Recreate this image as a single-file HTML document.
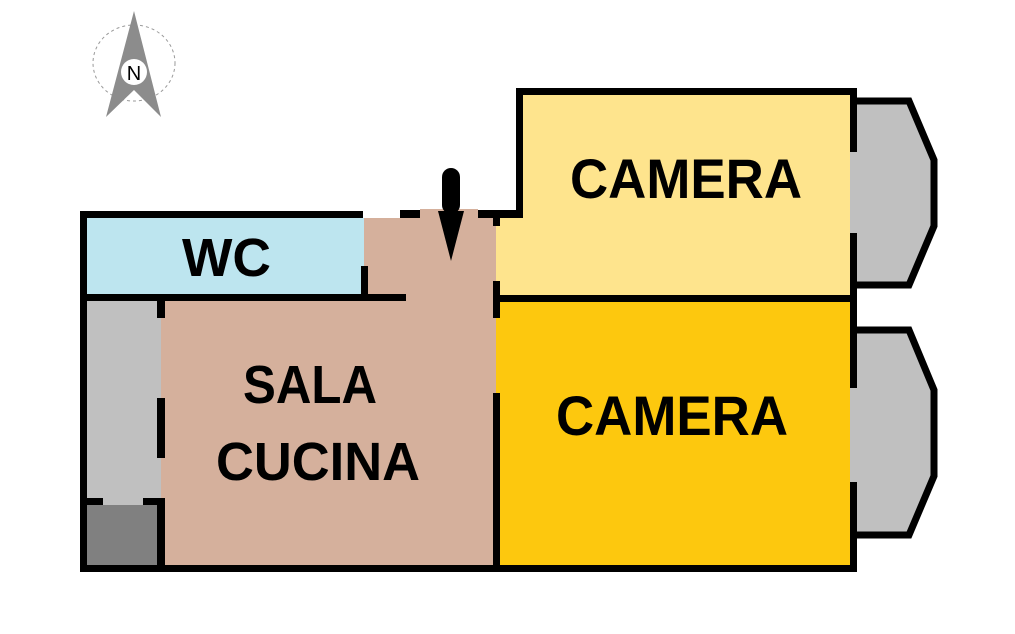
<!DOCTYPE html>
<html><head><style>html,body{margin:0;padding:0;background:#fff;}svg{display:block}</style></head>
<body>
<svg width="1015" height="634" viewBox="0 0 1015 634" xmlns="http://www.w3.org/2000/svg">
<ellipse cx="134" cy="63" rx="41" ry="38" fill="none" stroke="#999" stroke-width="1" stroke-dasharray="3,3"/>
<polygon points="134,11 161,117 134,90 106,117" fill="#8c8c8c"/>
<circle cx="134" cy="72" r="13" fill="#fff"/>
<text x="134" y="80" font-family="Liberation Sans, sans-serif" font-size="20" text-anchor="middle" fill="#000">N</text>
<rect x="86" y="218" width="278" height="77" fill="#bde5ef"/>
<polygon points="364,218 420,218 420,209 478,209 478,218 497,218 497,565 160,565 160,301 364,301" fill="#d5b09c"/>
<rect x="86" y="301" width="75" height="204" fill="#c0c0c0"/>
<rect x="86" y="505" width="75" height="60" fill="#808080"/>
<polygon points="522,95 851,95 851,297 496,297 496,218 522,218" fill="#fee48d"/>
<rect x="496" y="299" width="355" height="266" fill="#fdc80e"/>
<polygon points="850,101 909,101 934,160 934,226 909,285 850,285" fill="#c0c0c0"/>
<polyline points="853,101 909,101 934,160 934,226 909,285 853,285" fill="none" stroke="#000" stroke-width="7"/>
<polygon points="850,330 909,330 934,390 934,476 909,535 850,535" fill="#c0c0c0"/>
<polyline points="853,330 909,330 934,390 934,476 909,535 853,535" fill="none" stroke="#000" stroke-width="7"/>
<g fill="#000">
<rect x="80" y="211" width="7" height="361"/>
<rect x="80" y="211" width="283" height="7"/>
<rect x="400" y="210" width="20" height="8"/>
<rect x="478" y="210" width="44" height="8"/>
<rect x="516" y="88" width="7" height="130"/>
<rect x="516" y="88" width="341" height="7"/>
<rect x="80" y="565" width="777" height="7"/>
<rect x="850" y="88" width="7" height="64"/>
<rect x="850" y="233" width="7" height="155"/>
<rect x="850" y="482" width="7" height="90"/>
<rect x="493" y="295" width="364" height="7"/>
<rect x="80" y="294" width="326" height="7"/>
<rect x="361" y="266" width="7" height="30"/>
<rect x="493" y="218" width="7" height="8"/>
<rect x="493" y="281" width="7" height="37"/>
<rect x="493" y="393" width="7" height="175"/>
<rect x="157" y="301" width="8" height="17"/>
<rect x="157" y="398" width="8" height="60"/>
<rect x="157" y="498" width="8" height="70"/>
<rect x="80" y="498" width="23" height="7"/>
<rect x="143" y="498" width="20" height="7"/>
<rect x="442" y="168" width="18" height="46" rx="9"/>
<polygon points="438,211 464,211 451,261"/>
</g>
<g font-family="Liberation Sans, sans-serif" font-weight="bold" fill="#000">
<text x="182" y="276" font-size="54" textLength="89" lengthAdjust="spacingAndGlyphs">WC</text>
<text x="570" y="198" font-size="56" textLength="232" lengthAdjust="spacingAndGlyphs">CAMERA</text>
<text x="556" y="435" font-size="56" textLength="232" lengthAdjust="spacingAndGlyphs">CAMERA</text>
<text x="243" y="403" font-size="54" textLength="134" lengthAdjust="spacingAndGlyphs">SALA</text>
<text x="216" y="480" font-size="54" textLength="204" lengthAdjust="spacingAndGlyphs">CUCINA</text>
</g>
</svg>
</body></html>
